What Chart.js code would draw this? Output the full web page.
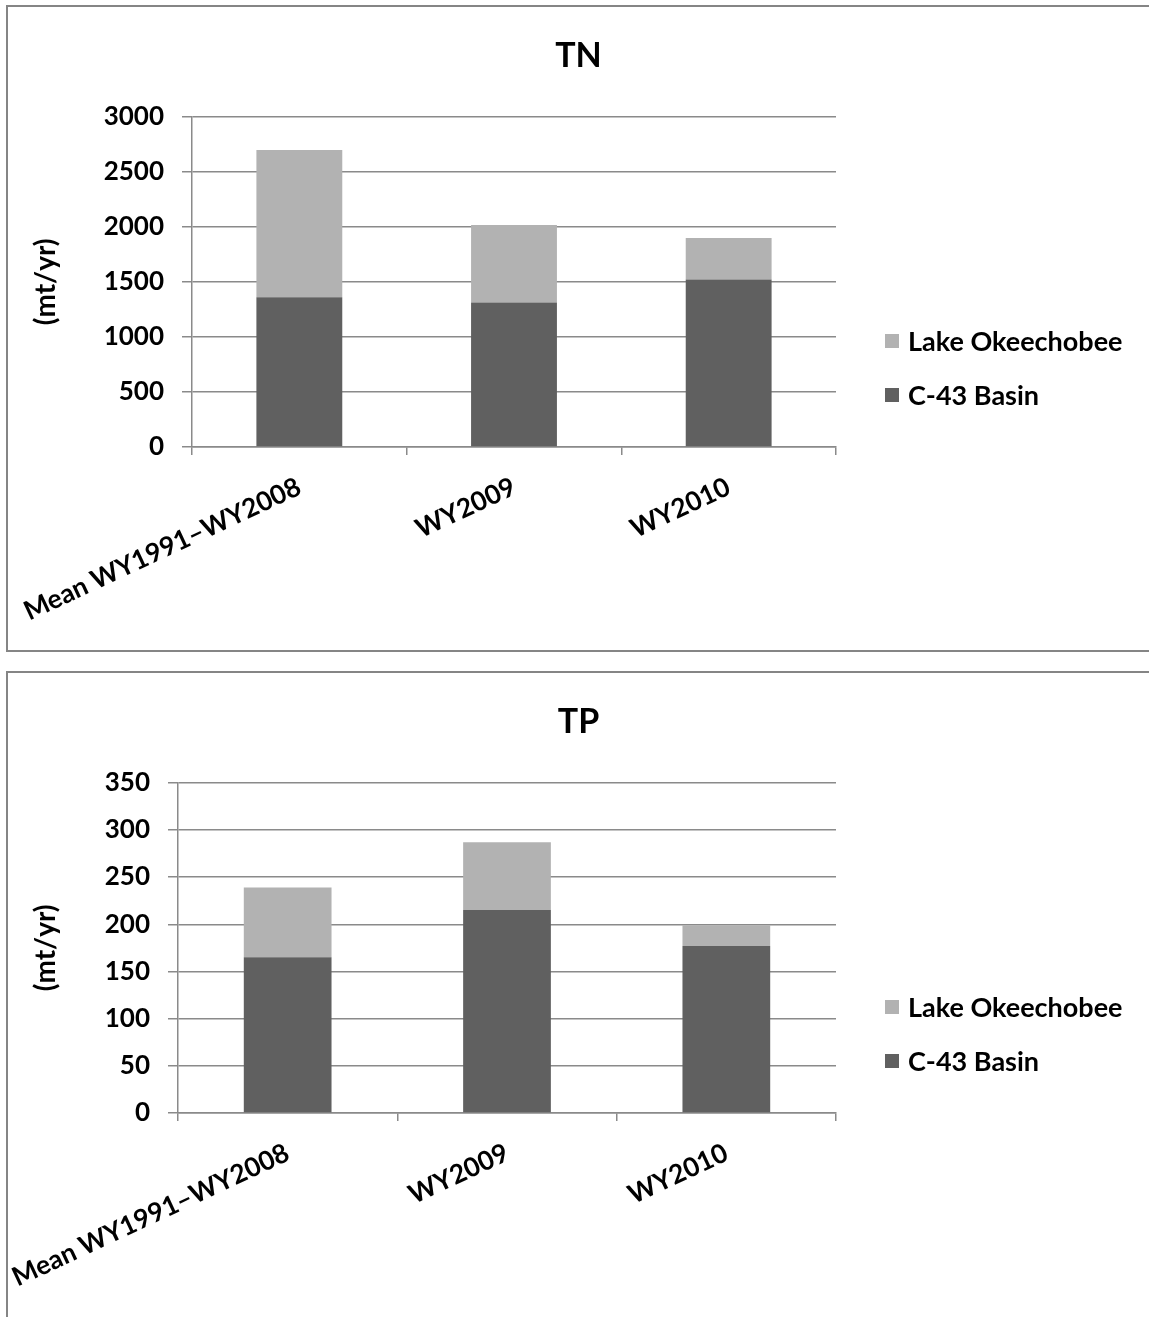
<!DOCTYPE html>
<html>
<head>
<meta charset="utf-8">
<title>C-43 loads</title>
<script src="https://cdn.jsdelivr.net/npm/chart.js@4.4.1/dist/chart.umd.min.js"></script>
<style>
  html, body { margin: 0; padding: 0; background: #fff; overflow: hidden; }
  body { position: relative; width: 1149px; height: 1317px; font-family: Lato, "Open Sans", sans-serif; }
  .panel { position: absolute; border: 2px solid #858585; box-sizing: border-box; }
  #panelTN { left: 6px; top: 5px; width: 1200px; height: 647px; }
  #panelTP { left: 6px; top: 671px; width: 1200px; height: 700px; }
  .wrap { position: absolute; left: 8px; }
  .legend { position: absolute; left: 885px; font-weight: bold; font-size: 27px; color: #000; }
  .legend .item { position: absolute; left: 0; height: 30px; line-height: 30px; white-space: nowrap; display: flex; align-items: center; }
  .legend .box { width: 14px; height: 14px; margin-right: 9px; display: inline-block; }
</style>
</head>
<body>
<div class="panel" id="panelTN"></div>
<div class="panel" id="panelTP"></div>
<div class="wrap" style="top:8px"><canvas id="chartTN" width="1141" height="641"></canvas></div>
<div class="wrap" style="top:674px"><canvas id="chartTP" width="1141" height="643"></canvas></div>
<div class="legend" id="legendTN" style="top:326px"></div>
<div class="legend" id="legendTP" style="top:992px"></div>

<script>
var categories = ['Mean WY1991\u2013WY2008', 'WY2009', 'WY2010'];
var seriesNames = ['C-43 Basin', 'Lake Okeechobee'];
var seriesColors = ['#606060', '#b2b2b2'];

// total nitrogen, mt/yr
var tnBasin = [1360, 1312, 1521];
var tnLake = [1338, 705, 378];

// total phosphorus, mt/yr
var tpBasin = [165, 215, 177];
var tpLake = [74, 72, 22];

var yTitle = '(mt/yr)';
var fontFamily = 'Lato, "Open Sans", sans-serif';
var gridColor = '#8a8a8a';

function makeChart(canvasId, title, basin, lake, yMax, yStep, yWidth, xHeight) {
    var ctx = document.getElementById(canvasId).getContext('2d');
    var font = { family: fontFamily, size: 26, weight: 'bold' };
    return new Chart(ctx, {
        type: 'bar',
        data: {
            labels: categories,
            datasets: [
                {
                    label: seriesNames[0],
                    data: basin,
                    backgroundColor: seriesColors[0],
                    borderWidth: 0,
                    categoryPercentage: 1,
                    barPercentage: 0.4
                },
                {
                    label: seriesNames[1],
                    data: lake,
                    backgroundColor: seriesColors[1],
                    borderWidth: 0,
                    categoryPercentage: 1,
                    barPercentage: 0.4
                }
            ]
        },
        options: {
            responsive: false,
            animation: false,
            plugins: {
                legend: { display: false },
                tooltip: { enabled: false },
                title: {
                    display: true,
                    text: title,
                    color: '#000',
                    font: { family: fontFamily, size: 34, weight: 'bold' },
                    padding: { top: 27.6, bottom: 40.3 }
                }
            },
            scales: {
                x: {
                    stacked: true,
                    grid: {
                        display: true,
                        drawOnChartArea: false,
                        drawTicks: true,
                        tickLength: 8,
                        color: gridColor,
                        lineWidth: 1.5,
                        offset: true
                    },
                    border: { display: true, color: gridColor, width: 1.5 },
                    ticks: {
                        color: '#000',
                        font: { family: fontFamily, size: 26.5, weight: 'bold' },
                        autoSkip: false,
                        maxRotation: 25,
                        minRotation: 25,
                        padding: 16
                    },
                    afterFit: function (scale) {
                        scale.height = xHeight;
                        // let the long first label run under the y axis
                        scale.paddingLeft = 0;
                        scale.paddingRight = 0;
                    }
                },
                y: {
                    stacked: true,
                    min: 0,
                    max: yMax,
                    ticks: {
                        stepSize: yStep,
                        color: '#000',
                        font: font,
                        padding: 18,
                        callback: function (value) { return String(value); }
                    },
                    grid: { color: gridColor, lineWidth: 1.5, tickLength: 10 },
                    border: { display: true, color: gridColor, width: 1.5 },
                    title: {
                        display: true,
                        text: yTitle,
                        color: '#000',
                        font: { family: fontFamily, size: 28, weight: 'bold' },
                        padding: { top: 21, bottom: 0 }
                    },
                    afterFit: function (scale) { scale.width = yWidth; }
                },
                // empty column on the right, leaves room for the legend
                side: {
                    type: 'linear',
                    position: 'right',
                    display: true,
                    grid: { display: false, drawTicks: false },
                    ticks: { display: false },
                    border: { display: false },
                    afterFit: function (scale) { scale.width = 313; }
                }
            }
        }
    });
}

// stacked order on the legend: top series first
function makeLegend(id) {
    var el = document.getElementById(id);
    for (var i = seriesNames.length - 1; i >= 0; i--) {
        var row = document.createElement('div');
        row.className = 'item';
        row.style.top = ((seriesNames.length - 1 - i) * 54) + 'px';
        var box = document.createElement('span');
        box.className = 'box';
        box.style.background = seriesColors[i];
        row.appendChild(box);
        row.appendChild(document.createTextNode(seriesNames[i]));
        el.appendChild(row);
    }
}

makeChart('chartTN', 'TN', tnBasin, tnLake, 3000, 500, 184, 202);
makeChart('chartTP', 'TP', tpBasin, tpLake, 350, 50, 170, 204);
makeLegend('legendTN');
makeLegend('legendTP');
</script>
</body>
</html>
